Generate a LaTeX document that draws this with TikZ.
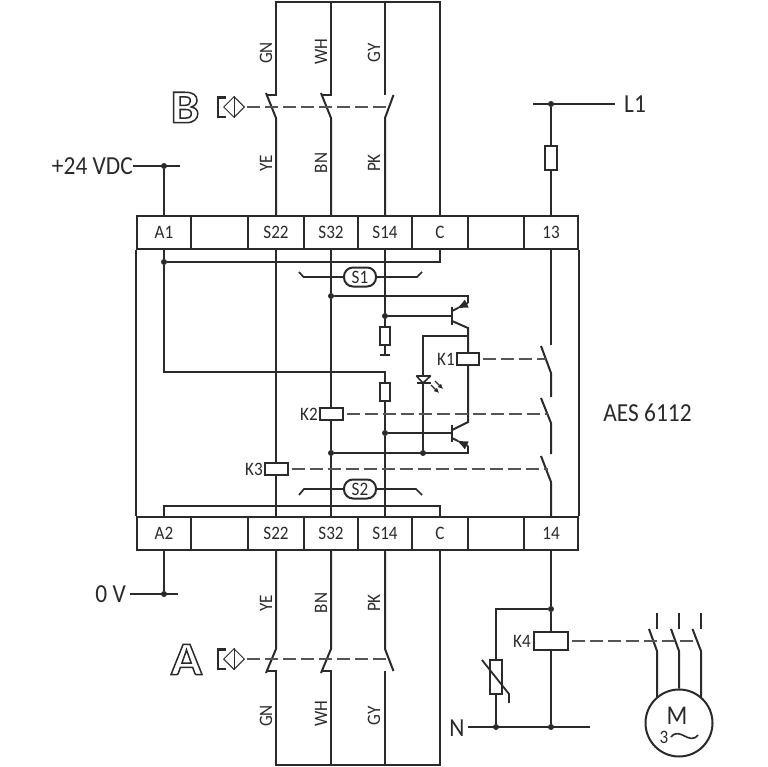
\documentclass[tikz,border=0pt]{standalone}
\usepackage{fontspec}
\setmainfont[FakeStretch=0.9]{Carlito}
\newfontfamily\wideface[FakeStretch=1.1]{Carlito}
\usetikzlibrary{arrows.meta,shapes.geometric}
\definecolor{ink}{HTML}{2A2A2A}
\tikzset{
  wire/.style={line width=2pt,color=ink,line join=miter},
  thin wire/.style={line width=1.7pt,color=ink},
  link/.style={line width=1.2pt,color=ink!80,dash pattern=on 13pt off 5pt},
  cell/.style={draw=ink,line width=2pt,rectangle,inner sep=0pt,minimum height=33pt,text=ink,font=\fontsize{19}{19}\selectfont},
  coil/.style={draw=ink,line width=2pt,fill=white,rectangle,inner sep=0pt},
  res/.style={draw=ink,line width=2pt,fill=white,rectangle,inner sep=0pt,minimum width=10pt,minimum height=18pt},
  lab/.style={text=ink,inner sep=0pt,font=\fontsize{19}{19}\selectfont},
  biglab/.style={text=ink,inner sep=0pt,font=\fontsize{26}{26}\selectfont},
  wirelab/.style={lab,rotate=90},
  jn/.style={circle,fill=ink,inner sep=0pt,minimum size=6pt},
  pill/.style={draw=ink,line width=2pt,rectangle,rounded corners=9pt,minimum width=32pt,minimum height=19pt,inner sep=0pt,text=ink,font=\fontsize{19}{19}\selectfont},
  sens/.style={draw=ink,line width=1pt,diamond,minimum size=21pt,inner sep=0pt},
  tip/.style={-{Latex[length=12pt,width=9pt]}},
  outline letter/.style={text=ink,inner sep=0pt,font=\wideface\bfseries\fontsize{47}{47}\selectfont},
}
\newcommand{\outl}[1]{\special{pdf:code 1 Tr 1.5 w}#1\special{pdf:code 0 Tr 1 w}}
\begin{document}
\begin{tikzpicture}[x=1pt,y=-1pt]
\fill[white] (0,0) rectangle (767,767);
\useasboundingbox (0,0) rectangle (767,767);
% terminal strips
\foreach \n/\cx/\w/\t in {A1/164/54/A1,E1/219.5/57/,S22/276/56/S22,S32/331/54/S32,S14/385/54/S14,C/440/56/C,F1/496/56/,T13/551/54/13}{
  \node[cell,minimum width=\w pt] (t\n) at (\cx,232.5) {\t};}
\foreach \n/\cx/\w/\t in {A2/164/54/A2,E2/219.5/57/,S22/276/56/S22,S32/331/54/S32,S14/385/54/S14,C/440/56/C,F2/496/56/,T14/551/54/14}{
  \node[cell,minimum width=\w pt] (b\n) at (\cx,533.5) {\t};}
\draw[wire] (tA1.south west) -- (bA2.north west);
\draw[wire] (tT13.south east) -- (bT14.north east);
% coils, resistors, pills
\node[coil,minimum width=22pt,minimum height=12pt] (k1) at (468,359) {};
\node[coil,minimum width=23pt,minimum height=12pt] (k2) at (331,414) {};
\node[coil,minimum width=23pt,minimum height=12pt] (k3) at (276,469) {};
\node[coil,minimum width=34pt,minimum height=18pt] (k4) at (551,641) {};
\node[res] (r1) at (385,336) {};
\node[res] (r2) at (385,392) {};
\node[res,minimum width=12pt,minimum height=24pt] (fuse) at (551,158) {};
\node[res,minimum width=12pt,minimum height=34pt] (var) at (496,677) {};
\node[pill] (s1) at (360,277) {S1};
\node[pill] (s2) at (360,489) {S2};
% junctions
\node[jn] (j24) at (164,166) {};
\node[jn] (j0) at (164,594) {};
\node[jn] (jL1) at (551,104) {};
\node[jn] (jA1) at (164,262) {};
\node[jn] (jS32a) at (331,296) {};
\node[jn] (jS14a) at (385,316) {};
\node[jn] (jS14b) at (385,433) {};
\node[jn] (jS32b) at (331,453) {};
\node[jn] (jLed) at (423,453) {};
\node[jn] (jK4) at (551,609) {};
\node[jn] (jN1) at (496,727) {};
\node[jn] (jN2) at (551,727) {};
% supply lines
\node[biglab,anchor=east] (lab24) at (133,166) {+24 VDC};
\node[biglab,anchor=east] (lab0) at (126,594) {0 V};
\node[biglab,anchor=west] (labL1) at (624,104) {L1};
\node[biglab] (labN) at (457,728) {N};
\coordinate (e24) at (180,166);
\coordinate (e0) at (178,594);
\coordinate (sL) at (533,104);
\coordinate (eL) at (615,104);
\coordinate (eN) at (590,727);
\draw[wire] (lab24.east) -- (e24);
\draw[wire] (lab0.east) ++(4,0) -- (e0);
\draw[wire] (sL) -- (eL);
\draw[wire] (labN.east) ++(3,-1) -- (eN);
\draw[wire] (j24) -- (tA1.north);
\draw[wire] (bA2.south) -- (j0);
\draw[wire] (jL1) -- (fuse.north);
\draw[wire] (fuse.south) -- (tT13.north);
% upper sensor wiring
\coordinate (topL) at (276,2);
\coordinate (topR) at (440,2);
\draw[wire] (tC.north) -- (topR) -- (topL) -- (276,95) -- (266,95);
\draw[wire] (tS22.north) -- (276,118) -- (266,93);
\draw[wire] (331,2) -- (331,95) -- (321,95);
\draw[wire] (tS32.north) -- (331,118) -- (321,93);
\draw[wire] (385,2) -- (385,95);
\draw[wire] (tS14.north) -- (385,118) -- (393.5,95);
% lower sensor wiring
\coordinate (botL) at (276,765);
\coordinate (botR) at (440,765);
\draw[wire] (bC.south) -- (botR) -- (botL) -- (276,671) -- (266,671);
\draw[wire] (bS22.south) -- (276,649) -- (266,673);
\draw[wire] (331,765) -- (331,671) -- (321,671);
\draw[wire] (bS32.south) -- (331,649) -- (321,673);
\draw[wire] (385,765) -- (385,671);
\draw[wire] (bS14.south) -- (385,649) -- (393.5,671);
% sensors
\node[sens] (sB) at (234,107) {};
\draw[thin wire,line width=1pt] (sB.north) -- (sB.south);
\draw[wire,line width=2.6pt] (226,97.5) -- (218,97.5) -- (218,117) -- (226,117);
\draw[link] (sB.east) ++(2,0) -- (388,107);
\node[sens] (sA) at (234,659) {};
\draw[thin wire,line width=1pt] (sA.north) -- (sA.south);
\draw[wire,line width=2.6pt] (226,649.5) -- (218,649.5) -- (218,669) -- (226,669);
\draw[link] (sA.east) ++(2,0) -- (388,659);
\node[outline letter] (letB) at (185,107.5) {\outl{B}};
\node[outline letter] (letA) at (186.5,659.5) {\outl{A}};
% internal wiring
\draw[wire] (tS22.south) -- (k3.north);
\draw[wire] (k3.south) -- (bS22.north);
\draw[wire] (tS32.south) -- (jS32a) -- (k2.north);
\draw[wire] (k2.south) -- (jS32b) -- (bS32.north);
\draw[wire] (tS14.south) -- (jS14a) -- (r1.north);
\draw[wire] (r1.south) -- (385,355);
\draw[wire] (380,355) -- (390,355);
\draw[wire] (r2.south) -- (jS14b) -- (bS14.north);
\draw[wire] (tA1.south) -- (jA1) -- (164,372) -- (385,372) -- (r2.north);
\draw[wire] (tC.south) -- (440,262) -- (jA1);
\draw[wire] (bA2.north) -- (164,506) -- (440,506) -- (bC.north);
% S1 S2 brackets
\draw[thin wire] (299,272) -- (303.5,277) -- (s1.west);
\draw[thin wire] (s1.east) -- (417,277) -- (422,272);
\draw[thin wire] (299,495) -- (304,489) -- (s2.west);
\draw[thin wire] (s2.east) -- (416,489) -- (422,495);
% transistor 1
\coordinate (b1) at (452,316);
\draw[wire] (jS14a) -- (b1);
\draw[wire,line width=2.4pt] (452,307) -- (452,325);
\draw[wire] (jS32a) -- (468,296) -- (468,303);
\draw[wire,tip] (468,303) -- (456,309);
\draw[wire] (458,308) -- (452,311);
\draw[wire] (452,321) -- (468,328) -- (468,336) -- (k1.north);
\draw[wire] (k1.south) -- (468,422) -- (452,430);
% transistor 2
\coordinate (b2) at (452,433);
\draw[wire] (jS14b) -- (b2);
\draw[wire,line width=2.4pt] (452,425) -- (452,442);
\draw[wire,tip] (468,446) -- (456,440);
\draw[wire] (458,441) -- (452,438);
\draw[wire] (jS32b) -- (468,453) -- (468,446);
% LED
\coordinate (ledtop) at (423,376);
\coordinate (ledbar) at (423,383);
\draw[wire] (468,336) -- (423,336) -- (ledtop);
\draw[wire] (ledbar) -- (jLed);
\draw[wire,line width=1.6pt,line join=round] (416.5,376) -- (430.5,376) -- (ledbar) -- cycle;
\draw[wire,line width=1.8pt] (416.5,383) -- (430.5,383);
\draw[wire,line width=1.2pt,-{Latex[length=5pt,width=5pt]}] (431,385) -- (439,393);
\draw[wire,line width=1.2pt,-{Latex[length=5pt,width=5pt]}] (435,381) -- (443,389);
% output contacts
\coordinate (c1a) at (541,346);
\coordinate (c1b) at (551,373);
\coordinate (c2a) at (541,398);
\coordinate (c2b) at (551,423);
\coordinate (c3a) at (541,456);
\coordinate (c3b) at (551,482);
\draw[wire] (tT13.south) -- (551,345);
\draw[wire] (c1a) -- (c1b) -- (551,397);
\draw[wire] (c2a) -- (c2b) -- (551,454);
\draw[wire] (c3a) -- (c3b) -- (bT14.north);
\draw[link] (k1.east) ++(3,0) -- (545.5,359);
\draw[link] (k2.east) ++(3,0) -- (548,414);
\draw[link] (k3.east) ++(3,0) -- (547.5,469);
% load
\draw[wire] (bT14.south) -- (jK4) -- (k4.north);
\draw[wire] (k4.south) -- (jN2);
\draw[wire] (jK4) -- (496,609) -- (var.north);
\draw[wire] (var.south) -- (jN1);
\draw[wire,line width=1.8pt] (482,660) -- (509,694) -- (509,703);
% motor
\node[draw=ink,line width=2pt,circle,minimum size=67pt,inner sep=0pt] (mot) at (679,723) {};
\node[text=ink,inner sep=0pt,font=\fontsize{27}{27}\selectfont] (labM) at (677,716) {M};
\node[lab] (lab3) at (664,737) {3};
\draw[wire,line width=1.6pt] (671,737) .. controls (680,726) and (689,746) .. (698,735);
\draw[wire] (657,613) -- (657,629);
\draw[wire] (679,613) -- (679,629);
\draw[wire] (701,613) -- (701,629);
\draw[wire] (649,629) -- (657,651) -- (657,698);
\draw[wire] (671,629) -- (679,651) -- (mot.north);
\draw[wire] (692.5,629) -- (701,651) -- (701,698);
\draw[link] (k4.east) ++(3,0) -- (695,641);
% labels
\node[lab] (labK1) at (446,359) {K1};
\node[lab] (labK2) at (309,414) {K2};
\node[lab] (labK3) at (254,469) {K3};
\node[lab] (labK4) at (522,641) {K4};
\node[text=ink,inner sep=0pt,font=\fontsize{26}{26}\selectfont] (labAES) at (647.5,413) {AES 6112};
\node[wirelab] (uGN) at (266,53) {GN};
\node[wirelab] (uWH) at (321,52) {WH};
\node[wirelab] (uGY) at (374,53) {GY};
\node[wirelab] (uYE) at (266,163) {YE};
\node[wirelab] (uBN) at (321,163) {BN};
\node[wirelab] (uPK) at (374,163) {PK};
\node[wirelab] (lYE) at (266,603) {YE};
\node[wirelab] (lBN) at (321,603) {BN};
\node[wirelab] (lPK) at (374,603) {PK};
\node[wirelab] (lGN) at (266,716) {GN};
\node[wirelab] (lWH) at (321,714) {WH};
\node[wirelab] (lGY) at (374,716) {GY};
\end{tikzpicture}
\end{document}
